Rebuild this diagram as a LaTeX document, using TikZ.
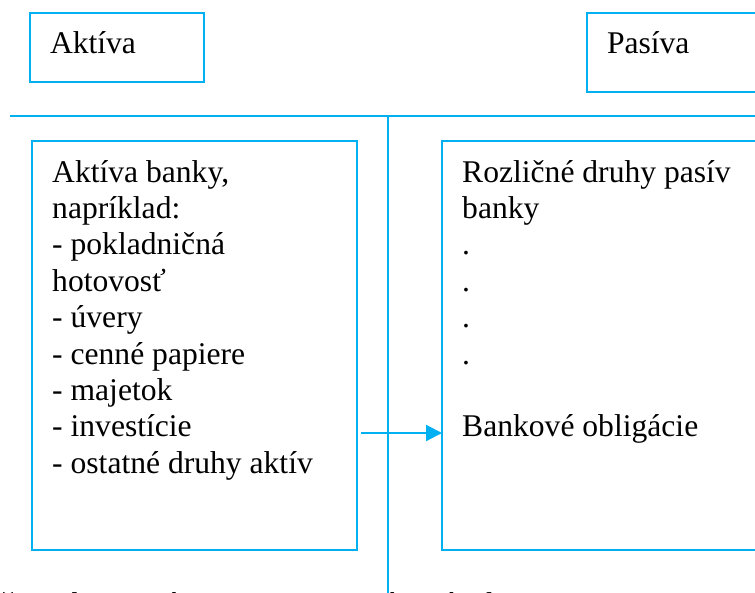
\documentclass[tikz,border=0pt]{standalone}
\usepackage{fontspec}
\setmainfont{Liberation Serif}
\usetikzlibrary{arrows.meta,positioning,calc}
\definecolor{lineblue}{RGB}{0,176,240}

\begin{document}
\begin{tikzpicture}[
    x=1pt, y=-1pt,
    font=\fontsize{31.6}{36.4}\selectfont,
    rule/.style={draw=lineblue, line width=2.2pt},
    boxframe/.style={draw=lineblue, line width=2.2pt, rectangle, inner sep=0pt, outer sep=0pt, anchor=north west},
    headbox/.style={boxframe, align=left, inner xsep=20pt, text height=40pt, text depth=29pt},
    boxtext/.style={anchor=north west, inner sep=0pt, align=left},
    flow/.style={-{Triangle[length=16pt, width=16pt]}, draw=lineblue, line width=2.2pt}
]
    % Page frame (755 x 592 px, y grows downwards)
    \useasboundingbox (0,0) rectangle (755,592);

    % Heading boxes
    \node[headbox, text width=134pt] (aktiva) at (30,13) {Aktíva};
    \node[headbox, text width=160pt, text depth=39pt] (pasiva) at (587,13) {Pasíva};

    % Dividing lines of the balance sheet
    \draw[rule] (10,116) -- (770,116);
    \draw[rule] (388,116) -- (388,600);

    % Content boxes
    \node[boxframe, minimum width=325pt, minimum height=409pt] (aktbox) at (32,141) {};
    \node[boxframe, minimum width=340pt, minimum height=409pt] (pasbox) at (442,141) {};

    \node[boxtext] (akttext) at ($(aktbox.north west)+(20,15.5)$)
        {\strut Aktíva banky,\\ napríklad:\\ - pokladničná\\ hotovosť\\ - úvery\\ - cenné papiere\\ - majetok\\ - investície\\ - ostatné druhy aktív};
    \node[boxtext] (pastext) at ($(pasbox.north west)+(20,15.5)$)
        {\strut Rozličné druhy pasív\\ banky\\ .\\ .\\ .\\ .\\ \strut\\ Bankové obligácie};

    % Arrow to the bank bonds
    \coordinate (arrowtail) at (361,433);
    \draw[flow] (arrowtail) -- (arrowtail -| pasbox.west);

    % Caption cut by the page edge
    \node[anchor=base west, inner sep=0pt] (poznamka) at (0,614) {čo sa bez továrne nezaznamená v súvahe};
\end{tikzpicture}
\end{document}
